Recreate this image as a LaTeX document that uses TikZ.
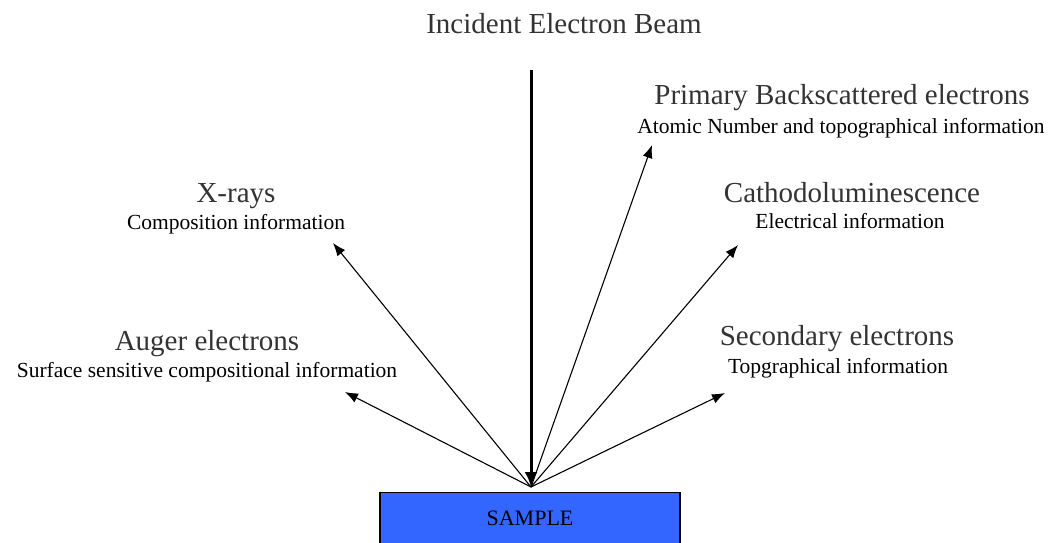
\documentclass[tikz,border=0pt]{standalone}
\usepackage{fontspec}
\setmainfont{Liberation Serif}
\usetikzlibrary{arrows.meta}
\definecolor{sampleblue}{HTML}{3366FF}
\begin{document}
\begin{tikzpicture}[x=1pt,y=-1pt,
  big/.style={anchor=base, inner sep=0pt, font=\fontsize{29}{34}\selectfont, text=black!80},
  small/.style={anchor=base, inner sep=0pt, font=\fontsize{21.5}{26}\selectfont, text=black},
  ray/.style={-{Latex[length=13pt,width=10pt]}, line width=1.1pt},
  beam/.style={-{Latex[length=15pt,width=13pt]}, line width=3pt},
  samplebox/.style={draw=black, line width=1.2pt, fill=sampleblue, minimum width=300pt, minimum height=52pt, anchor=north, inner sep=0pt, font=\fontsize{22}{26}\selectfont}
]
\useasboundingbox (0,0) rectangle (1055,542);
\fill[white] (0,0) rectangle (1055,542);

\node[samplebox] (sample) at (530,492) {SAMPLE};

\coordinate (o) at (531,487);
\coordinate (btop) at (531,70);
\coordinate (tAuger) at (345,392);
\coordinate (tX) at (333,243);
\coordinate (tPrim) at (652,145);
\coordinate (tCath) at (738,245);
\coordinate (tSec) at (725,393);

\node[big] (title) at (564,33) {Incident Electron Beam};
\node[big] (prim) at (842,104) {Primary Backscattered electrons};
\node[small] (primsub) at (841,133) {Atomic Number and topographical information};
\node[big] (cath) at (852,202) {Cathodoluminescence};
\node[small] (cathsub) at (850,228) {Electrical information};
\node[big] (xr) at (236,202) {X-rays};
\node[small] (xrsub) at (236,229) {Composition information};
\node[big] (aug) at (207,350) {Auger electrons};
\node[small] (augsub) at (207,377) {Surface sensitive compositional information};
\node[big] (sec) at (837,345) {Secondary electrons};
\node[small] (secsub) at (838,373) {Topgraphical information};

\draw[beam] (btop) -- (o);
\draw[ray] (o) -- (tAuger);
\draw[ray] (o) -- (tX);
\draw[ray] (o) -- (tPrim);
\draw[ray] (o) -- (tCath);
\draw[ray] (o) -- (tSec);
\end{tikzpicture}
\end{document}
